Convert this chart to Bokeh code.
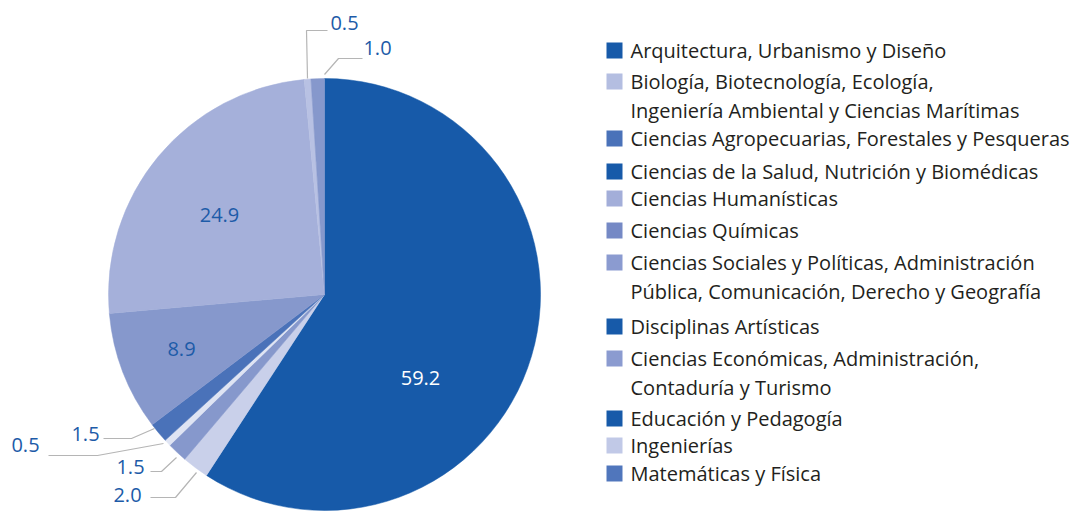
import math
from bokeh.plotting import figure
from bokeh.models import Range1d
from bokeh.core.properties import value
from bokeh.embed import file_html
from bokeh.resources import INLINE

# ---------------- data ----------------
slice_values = [59.2, 2.0, 1.5, 0.5, 1.5, 8.9, 24.9, 0.5, 1.0]
slice_labels = ["59.2", "2.0", "1.5", "0.5", "1.5", "8.9", "24.9", "0.5", "1.0"]
slice_colors = ["#175aa9", "#c9d0ea", "#8698cc", "#dfe4f3", "#4a72b9",
                "#8698cc", "#a5b0da", "#b8c1e3", "#8698cc"]

legend_categories = [
    ["Arquitectura, Urbanismo y Diseño"],
    ["Biología, Biotecnología, Ecología,", "Ingeniería Ambiental y Ciencias Marítimas"],
    ["Ciencias Agropecuarias, Forestales y Pesqueras"],
    ["Ciencias de la Salud, Nutrición y Biomédicas"],
    ["Ciencias Humanísticas"],
    ["Ciencias Químicas"],
    ["Ciencias Sociales y Políticas, Administración", "Pública, Comunicación, Derecho y Geografía"],
    ["Disciplinas Artísticas"],
    ["Ciencias Económicas, Administración,", "Contaduría y Turismo"],
    ["Educación y Pedagogía"],
    ["Ingenierías"],
    ["Matemáticas y Física"],
]
legend_colors = ["#175aa9", "#b4bee1", "#4a72b9", "#175aa9", "#a3aed9", "#7589c5",
                 "#8b9bd0", "#175aa9", "#8b9bd0", "#175aa9", "#c1c9e7", "#5076bc"]

# ---------------- layout ----------------
W, H = 1080, 511
def Y(py):
    return H - py

CX, CY, R = 324, 294, 216
LABEL_BLUE = "#1d5ba8"
LEADER = "#b5b5b5"
FONT = "Open Sans"

p = figure(width=W, height=H, output_backend="svg", toolbar_location=None,
           x_range=Range1d(0, W), y_range=Range1d(0, H), min_border=0)
p.axis.visible = False
p.grid.visible = False
p.outline_line_color = None
p.background_fill_color = "white"
p.border_fill_color = "white"

total = sum(slice_values)
starts, ends = [], []
cum = 0.0
for v in slice_values:
    a0 = math.pi / 2 - 2 * math.pi * cum / total
    cum += v
    a1 = math.pi / 2 - 2 * math.pi * cum / total
    starts.append(a0)
    ends.append(a1)

p.wedge(x=[CX] * len(slice_values), y=[Y(CY)] * len(slice_values), radius=R,
        start_angle=starts, end_angle=ends, direction="clock",
        fill_color=slice_colors, line_color=slice_colors, line_width=0.5)

# label placement (pixel positions) and leader polylines
label_pos = [(420, 377, "center", "white"), (127, 494, "center", LABEL_BLUE),
             (130, 466, "center", LABEL_BLUE), (25, 444, "center", LABEL_BLUE),
             (85, 433, "center", LABEL_BLUE), (181, 348, "center", LABEL_BLUE),
             (219, 214, "center", LABEL_BLUE), (344, 22, "center", LABEL_BLUE),
             (377, 47, "center", LABEL_BLUE)]
leaders = {
    1: [(196, 472), (175, 497), (150, 497)],
    2: [(176, 457), (161, 471), (150, 471)],
    3: [(163, 443), (97, 455), (48, 455)],
    4: [(154, 428), (131, 438), (103, 438)],
    7: [(307, 78), (306, 30), (327, 30)],
    8: [(324, 74), (338, 58), (362, 58)],
}
for i, pts in leaders.items():
    p.line([q[0] for q in pts], [Y(q[1]) for q in pts], line_color=LEADER, line_width=1.2)

for i, lab in enumerate(slice_labels):
    x, y, al, col = label_pos[i]
    p.text(x=[x], y=[Y(y)], text=[lab], text_font=value(FONT), text_font_size="20px",
           text_color=col, text_align=al, text_baseline="middle")

# legend
row_y = [50, 81, 138, 171, 198, 230, 262, 326, 358, 418, 445, 473]
line_gap = 29
sq_x, txt_x, sq = 606, 630, 16
for cat, col, ry in zip(legend_categories, legend_colors, row_y):
    p.rect(x=[sq_x + sq / 2], y=[Y(ry)], width=sq, height=sq, fill_color=col, line_color=None)
    for k, t in enumerate(cat):
        p.text(x=[txt_x], y=[Y(ry + k * line_gap)], text=[t], text_font=value(FONT),
               text_font_size="20px", text_color="#231f20", text_align="left",
               text_baseline="middle")

open("out.html", "w").write(file_html(p, INLINE))
